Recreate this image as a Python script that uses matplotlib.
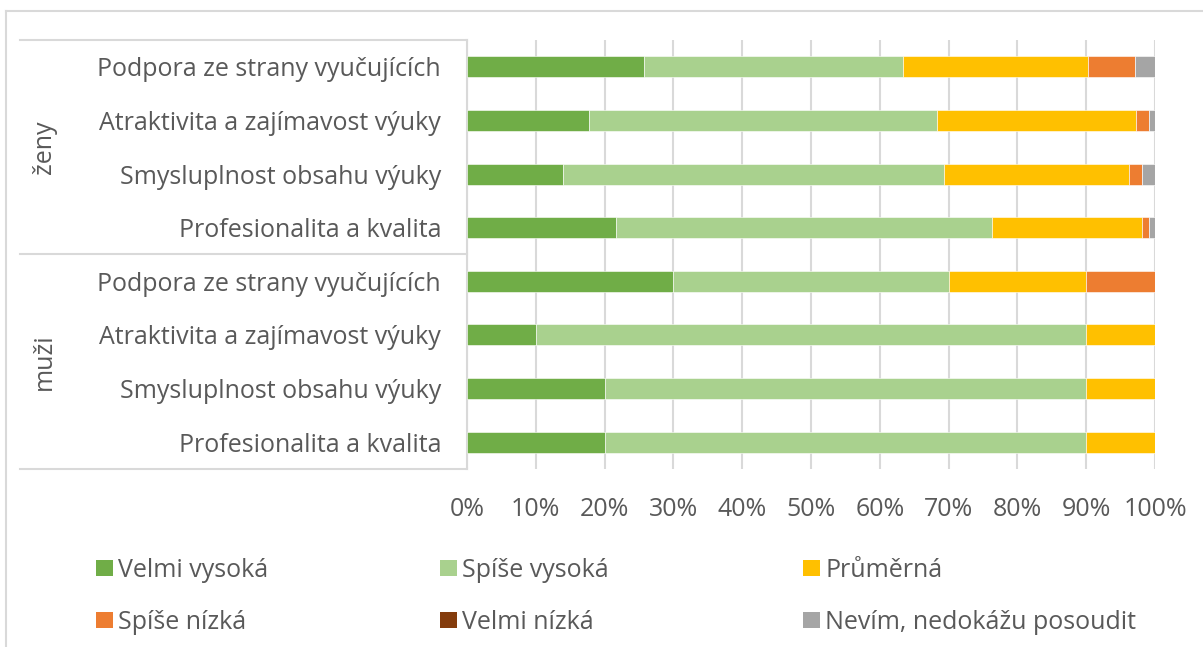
import matplotlib
matplotlib.use("Agg")
import matplotlib.pyplot as plt
from matplotlib.patches import Patch
from matplotlib.lines import Line2D
import numpy as np

plt.rcParams['font.family'] = ['Open Sans', 'DejaVu Sans']

# ---- data (top row first) ----
groups = ["ženy", "muži"]
items = ["Podpora ze strany vyučujících", "Atraktivita a zajímavost výuky",
         "Smysluplnost obsahu výuky", "Profesionalita a kvalita"]
row_labels = items + items
series_names = ["Velmi vysoká", "Spíše vysoká", "Průměrná",
                "Spíše nízká", "Velmi nízká", "Nevím, nedokážu posoudit"]
velmi_vysoka = [25.7, 17.8, 13.9, 21.7, 30.0, 10.0, 20.0, 20.0]
spise_vysoka = [37.7, 50.5, 55.5, 54.6, 40.0, 80.0, 70.0, 70.0]
prumerna     = [26.8, 28.9, 26.8, 21.8, 20.0, 10.0, 10.0, 10.0]
spise_nizka  = [6.9, 1.9, 1.9, 1.0, 10.0, 0.0, 0.0, 0.0]
velmi_nizka  = [0.0, 0.0, 0.0, 0.0, 0.0, 0.0, 0.0, 0.0]
nevim        = [2.9, 0.9, 1.9, 0.9, 0.0, 0.0, 0.0, 0.0]
xticks = [0, 10, 20, 30, 40, 50, 60, 70, 80, 90, 100]

series = [velmi_vysoka, spise_vysoka, prumerna, spise_nizka, velmi_nizka, nevim]
colors = ["#70AD47", "#A9D18E", "#FFC000", "#ED7D31", "#843C0C", "#A5A5A5"]
txt = "#595959"
grid_c = "#D9D9D9"
FS = 18

W, H = 1203, 647
fig = plt.figure(figsize=(W / 100, H / 100), dpi=100)
ax_l, ax_r, ax_t, ax_b = 467, 1155, 40, 469
ax = fig.add_axes([ax_l / W, 1 - ax_b / H, (ax_r - ax_l) / W, (ax_b - ax_t) / H])

n = len(row_labels)
y = np.arange(n)
left = np.zeros(n)
for vals, c, name in zip(series, colors, series_names):
    v = np.array(vals)
    ax.barh(y, v, left=left, height=0.39, color=c, label=name, zorder=3,
            edgecolor='white', linewidth=0.4)
    left += v

ax.set_xlim(0, 100)
ax.set_ylim(n - 0.5, -0.5)
ax.set_xticks(xticks)
ax.set_xticklabels([f"{t}%" for t in xticks])
ax.set_yticks(y)
ax.set_yticklabels(row_labels)
ax.tick_params(axis='both', length=0, labelsize=FS, colors=txt)
ax.tick_params(axis='y', pad=18.7)
ax.tick_params(axis='x', pad=20.5)
ax.grid(axis='x', color=grid_c, linewidth=1.5, zorder=0)
for s in ['top', 'right', 'bottom']:
    ax.spines[s].set_visible(False)
ax.spines['left'].set_color(grid_c)
ax.spines['left'].set_linewidth(1.5)

# category axis structure lines (in axes fraction x, data y)
trans = ax.get_yaxis_transform()
x0 = (20 - ax_l) / (ax_r - ax_l)
for yy in [-0.5, 3.5, 7.5]:
    ax.add_line(Line2D([x0, 0], [yy, yy], transform=trans, color=grid_c,
                       linewidth=1.5, clip_on=False))
for gi, g in enumerate(groups):
    ax.text((44 - ax_l) / (ax_r - ax_l), gi * 4 + 1.5, g, transform=trans,
            rotation=90, ha='center', va='center', fontsize=FS, color=txt)

# outer chart border (top & left visible)
fig.add_artist(Line2D([6 / W, 1], [1 - 11 / H, 1 - 11 / H], color=grid_c, linewidth=1.5))
fig.add_artist(Line2D([6 / W, 6 / W], [0, 1 - 11 / H], color=grid_c, linewidth=1.5))

# legend: three columns of two entries
handles = [Patch(facecolor=c, edgecolor='none') for c in colors]
order_cols = [(0, 3), (1, 4), (2, 5)]
col_x = [96, 440, 803]
for (a, b), cx in zip(order_cols, col_x):
    fig.legend([handles[a], handles[b]], [series_names[a], series_names[b]],
               loc='upper left', bbox_to_anchor=(cx / W, 1 - 558 / H),
               frameon=False, fontsize=FS, labelcolor=txt,
               handlelength=0.68, handleheight=0.64, handletextpad=0.2,
               labelspacing=1.08, borderaxespad=0, borderpad=0)

fig.savefig("out.png", dpi=100)
